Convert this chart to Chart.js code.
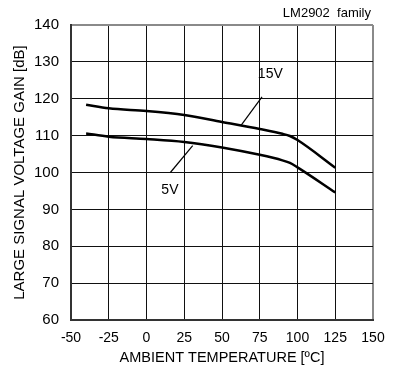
<!DOCTYPE html>
<html>
<head>
<meta charset="utf-8">
<script src="https://cdn.jsdelivr.net/npm/chart.js@4"></script>
<style>
  body { margin: 0; background: #fff; }
  #wrap { width: 396px; height: 378px; }
</style>
</head>
<body>
<div id="wrap"><canvas id="gain"></canvas></div>
<script>
// Curve data
const temps = [-40, -25, 0, 25, 50, 75, 90, 95, 100, 125];
const gain15V = [118.4, 117.4, 116.7, 115.6, 113.7, 111.8, 110.5, 109.9, 108.8, 101.3];
const gain5V = [110.6, 109.7, 109.1, 108.3, 106.8, 104.8, 103.3, 102.6, 101.4, 94.6];

const xTicks = [-50, -25, 0, 25, 50, 75, 100, 125, 150];
const yTicks = [60, 70, 80, 90, 100, 110, 120, 130, 140];

// Curve labels and their pointer lines, in data units
const labels = [
    { text: '15V', x: 82, y: 126.6, from: [76.5, 120.5], to: [62.5, 112.7] },
    { text: '5V', x: 15.5, y: 95.2, from: [15.8, 100.0], to: [30.6, 107.3] }
];

const toPoints = (ys) => temps.map((t, i) => ({ x: t, y: ys[i] }));

const calloutPlugin = {
    id: 'callouts',
    afterDatasetsDraw(chart) {
        const ctx = chart.ctx;
        const xs = chart.scales.x;
        const ys = chart.scales.y;
        ctx.save();
        ctx.strokeStyle = '#000';
        ctx.lineWidth = 1.2;
        ctx.fillStyle = '#000';
        ctx.font = '14px "Liberation Sans", Arial, sans-serif';
        ctx.textAlign = 'center';
        ctx.textBaseline = 'middle';
        labels.forEach(l => {
            ctx.beginPath();
            ctx.moveTo(xs.getPixelForValue(l.from[0]), ys.getPixelForValue(l.from[1]));
            ctx.lineTo(xs.getPixelForValue(l.to[0]), ys.getPixelForValue(l.to[1]));
            ctx.stroke();
            ctx.fillText(l.text, xs.getPixelForValue(l.x), ys.getPixelForValue(l.y));
        });
        // family note at the top right
        ctx.font = '13px "Liberation Sans", Arial, sans-serif';
        ctx.textAlign = 'right';
        ctx.fillText('LM2902  family', 371, 13);
        ctx.restore();
    }
};

const config = {
    type: 'line',
    data: {
        datasets: [
            { label: '15V', data: toPoints(gain15V), borderColor: '#000', borderWidth: 2.5, pointRadius: 0, cubicInterpolationMode: 'monotone', fill: false },
            { label: '5V', data: toPoints(gain5V), borderColor: '#000', borderWidth: 2.5, pointRadius: 0, cubicInterpolationMode: 'monotone', fill: false }
        ]
    },
    options: {
        responsive: true,
        maintainAspectRatio: false,
        animation: false,
        layout: { padding: { top: 25, right: 23, left: 0, bottom: 0 } },
        plugins: {
            legend: { display: false },
            tooltip: { enabled: false }
        },
        scales: {
            x: {
                type: 'linear',
                min: -50,
                max: 150,
                afterBuildTicks: (s) => { s.ticks = xTicks.map(v => ({ value: v })); },
                afterFit: (s) => { s.height = 58; },
                ticks: {
                    color: '#000',
                    padding: 10,
                    maxRotation: 0,
                    font: { family: '"Liberation Sans", Arial', size: 14 }
                },
                grid: {
                    drawTicks: false,
                    color: (c) => c.tick && c.tick.value === 150 ? '#8a8a8a' : '#111',
                    lineWidth: (c) => c.tick && c.tick.value === 150 ? 2 : 1
                },
                border: { color: '#333', width: 2 },
                title: {
                    display: true,
                    text: 'AMBIENT TEMPERATURE [\u00BAC]',
                    color: '#000',
                    padding: { top: 0, bottom: 11 },
                    font: { family: '"Liberation Sans", Arial', size: 14.5 }
                }
            },
            y: {
                min: 60,
                max: 140,
                afterBuildTicks: (s) => { s.ticks = yTicks.map(v => ({ value: v })); },
                afterFit: (s) => { s.width = 71; },
                ticks: {
                    color: '#000',
                    padding: 12,
                    font: { family: '"Liberation Sans", Arial', size: 15 }
                },
                grid: {
                    drawTicks: false,
                    color: (c) => c.tick && c.tick.value === 140 ? '#8a8a8a' : '#111',
                    lineWidth: (c) => c.tick && c.tick.value === 140 ? 2 : 1
                },
                border: { color: '#333', width: 2 },
                title: {
                    display: true,
                    text: 'LARGE SIGNAL VOLTAGE GAIN [dB]',
                    color: '#000',
                    padding: { top: 11, bottom: 0 },
                    font: { family: '"Liberation Sans", Arial', size: 15 }
                }
            }
        }
    },
    plugins: [calloutPlugin]
};

new Chart(document.getElementById('gain'), config);
</script>
</body>
</html>
